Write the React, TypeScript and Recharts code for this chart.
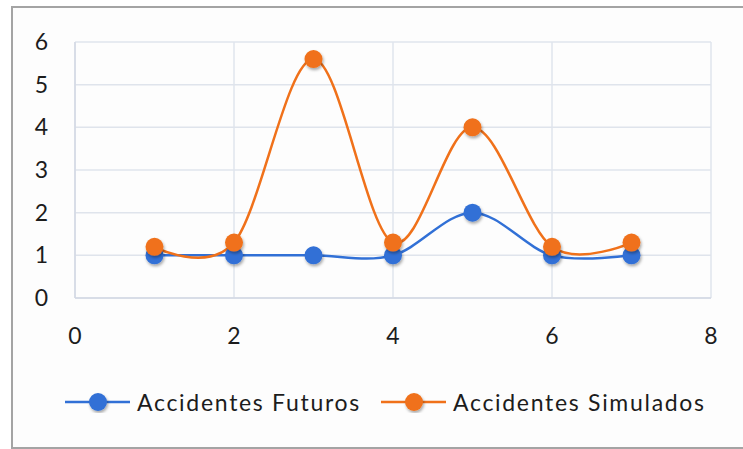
import { CartesianGrid, Legend, Line, LineChart, XAxis, YAxis } from 'recharts'

const periods = [1, 2, 3, 4, 5, 6, 7]
const futuros = [1, 1, 1, 1, 2, 1, 1]
const simulados = [1.2, 1.3, 5.6, 1.3, 4, 1.2, 1.3]
const xTicks = [0, 2, 4, 6, 8]
const yTicks = [0, 1, 2, 3, 4, 5, 6]

const series = [
  { key: 'futuros', name: 'Accidentes Futuros', color: '#3170d6' },
  { key: 'simulados', name: 'Accidentes Simulados', color: '#f0711a' },
]

const rows = periods.map((x, i) => ({ x, futuros: futuros[i], simulados: simulados[i] }))

const FONT = 'Lato, "Open Sans", sans-serif'
const TEXT = '#1c1c1c'

// Catmull-Rom style smoothing (cardinal spline, tension 0) as a d3 curve factory
const smoothCurve = (context: any) => {
  const k = 1 / 6
  let x0 = NaN, y0 = NaN, x1 = NaN, y1 = NaN, x2 = NaN, y2 = NaN
  let n = 0
  const seg = (x: number, y: number) =>
    context.bezierCurveTo(
      x1 + k * (x2 - x0),
      y1 + k * (y2 - y0),
      x2 + k * (x1 - x),
      y2 + k * (y1 - y),
      x2,
      y2,
    )
  return {
    areaStart() {},
    areaEnd() {},
    lineStart() {
      x0 = x1 = x2 = y0 = y1 = y2 = NaN
      n = 0
    },
    lineEnd() {
      if (n === 2) context.lineTo(x2, y2)
      else if (n === 3) seg(x1, y1)
    },
    point(x: number, y: number) {
      if (n === 0) {
        n = 1
        context.moveTo(x, y)
      } else if (n === 1) {
        n = 2
        x1 = x
        y1 = y
      } else {
        n = 3
        seg(x, y)
      }
      x0 = x1; x1 = x2; x2 = x
      y0 = y1; y1 = y2; y2 = y
    },
  }
}

const makeDot = (color: string) => (p: any) => (
  <circle key={`${color}-${p.index}`} cx={p.cx} cy={p.cy} r={9} fill={color} filter="url(#dotShadow)" />
)

function LegendRow() {
  return (
    <div
      style={{
        display: 'flex',
        alignItems: 'center',
        paddingLeft: 65,
        fontFamily: FONT,
        fontSize: 23,
        letterSpacing: 1.7,
        color: TEXT,
      }}
    >
      {series.map((s) => (
        <div key={s.key} style={{ display: 'flex', alignItems: 'center', marginRight: 20 }}>
          <svg width={65} height={22} style={{ marginRight: 7 }}>
            <line x1={0} y1={11} x2={65} y2={11} stroke={s.color} strokeWidth={2.5} />
            <circle cx={33} cy={11} r={9} fill={s.color} filter="url(#dotShadow)" />
          </svg>
          <span>{s.name}</span>
        </div>
      ))}
    </div>
  )
}

export default function App() {
  return (
    <div style={{ position: 'absolute', left: 0, top: 0, width: 743, height: 449, overflow: 'hidden', background: '#fff' }}>
      <div
        style={{
          position: 'absolute',
          left: 11,
          top: 6,
          width: 760,
          height: 439,
          border: '2px solid #a4a4a4',
          background: '#fdfdfd',
        }}
      />
      <div style={{ position: 'absolute', left: 0, top: 0 }}>
        <LineChart width={743} height={449} data={rows} margin={{ top: 42, right: 32, left: 0, bottom: 121 }}>
          <defs>
            <filter id="dotShadow" x="-50%" y="-50%" width="200%" height="200%">
              <feDropShadow dx={1} dy={2} stdDeviation={1.5} floodColor="#000" floodOpacity={0.35} />
            </filter>
          </defs>
          <CartesianGrid stroke="#dfe4ec" strokeWidth={1.5} />
          <XAxis
            type="number"
            dataKey="x"
            domain={[0, 8]}
            ticks={xTicks}
            height={30}
            tickLine={false}
            axisLine={{ stroke: '#d3d9e3', strokeWidth: 1.5 }}
            tickMargin={24}
            tick={{ fill: TEXT, fontSize: 23, fontFamily: FONT }}
          />
          <YAxis
            type="number"
            domain={[0, 6]}
            ticks={yTicks}
            width={75}
            tickLine={false}
            axisLine={{ stroke: '#d3d9e3', strokeWidth: 1.5 }}
            tickMargin={21}
            tick={{ fill: TEXT, fontSize: 23, fontFamily: FONT }}
          />
          {series.map((s) => (
            <Line
              key={s.key}
              dataKey={s.key}
              name={s.name}
              type={smoothCurve as any}
              stroke={s.color}
              strokeWidth={2.5}
              dot={makeDot(s.color)}
              activeDot={false}
              isAnimationActive={false}
            />
          ))}
          <Legend
            layout="horizontal"
            verticalAlign="middle"
            align="center"
            wrapperStyle={{ top: 388, left: 0, width: 743 }}
            content={() => <LegendRow />}
          />
        </LineChart>
      </div>
    </div>
  )
}
